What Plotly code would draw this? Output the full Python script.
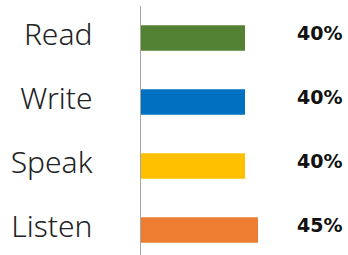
import plotly.graph_objects as go

categories = ["Read", "Write", "Speak", "Listen"]
values = [40, 40, 40, 45]
colors = ["#548235", "#0070C0", "#FFC000", "#ED7D31"]
value_labels = [f"{v}%" for v in values]

fig = go.Figure()
fig.add_trace(go.Bar(
    y=categories, x=values, orientation="h",
    marker=dict(color=colors, line=dict(width=0)),
    hoverinfo="skip",
))

label_x = 68.5
for c, t in zip(categories, value_labels):
    fig.add_annotation(x=label_x, y=c, text=t, showarrow=False, yshift=5,
                       font=dict(family="DejaVu Sans", size=19, color="#111"),
                       xanchor="center", yanchor="middle")
fig.update_annotations(font_weight="bold")

fig.update_layout(
    width=348, height=255,
    margin=dict(l=141, r=0, t=6, b=0, autoexpand=False),
    paper_bgcolor="white", plot_bgcolor="white",
    bargap=0.6, showlegend=False,
    xaxis=dict(range=[0, 207 / 2.6], visible=False, fixedrange=True, automargin=False),
    yaxis=dict(
        categoryorder="array", categoryarray=categories,
        range=[3.39, -0.5], automargin=False,
        showgrid=False, zeroline=False,
        showline=True, linecolor="#a6a6a6", linewidth=1.5,
        ticks="", ticklabelstandoff=41, ticklabelshift=4,
        tickfont=dict(family="Noto Sans", size=30, color="#222"),
    ),
)
fig.update_yaxes(tickfont_weight=300)

fig.write_html("out.html", config={"displayModeBar": False, "staticPlot": True},
               post_script="document.body.style.margin='0';document.body.style.overflow='hidden';")
